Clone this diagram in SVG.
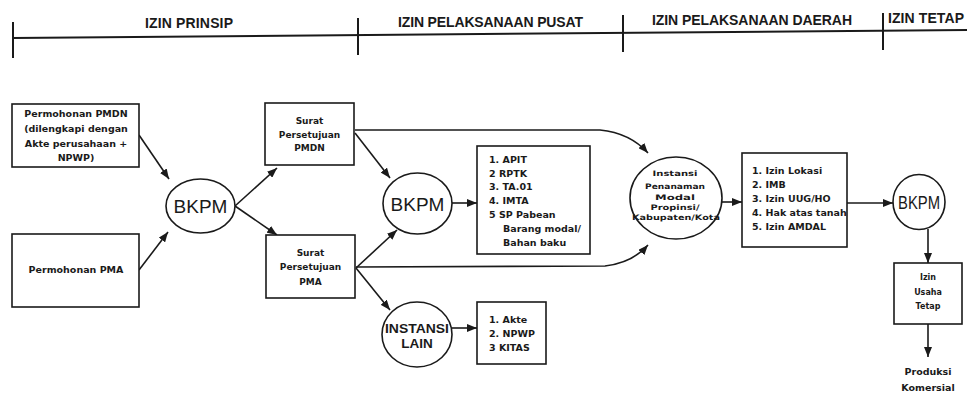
<svg xmlns="http://www.w3.org/2000/svg" width="967" height="398" viewBox="0 0 967 398">
<defs>
<marker id="ah" markerUnits="userSpaceOnUse" markerWidth="10" markerHeight="8" refX="10" refY="4" orient="auto">
<path d="M0,0 L10,4 L0,8 z" fill="#1a1a1a"/>
</marker>
</defs>
<style>
.ln{stroke:#1a1a1a;stroke-width:1.6;fill:none}
.ar{stroke:#1a1a1a;stroke-width:1.6;fill:none;marker-end:url(#ah)}
.bx{stroke:#1a1a1a;stroke-width:1.6;fill:#fff}
.hd{font-family:"Liberation Sans",Arial,sans-serif;font-weight:bold;font-size:14px;fill:#1a1a1a}
.sm{font-family:"DejaVu Sans",sans-serif;font-weight:bold;font-size:9.5px;fill:#1a1a1a}
.sc{font-family:"DejaVu Sans",sans-serif;font-weight:bold;font-size:9px;fill:#1a1a1a;text-anchor:middle}
.bk{font-family:"Liberation Sans",Arial,sans-serif;font-size:19px;fill:#1a1a1a;text-anchor:middle}
</style>
<rect width="967" height="398" fill="#fff"/>
<g id="header">
<line x1="13" y1="38" x2="967" y2="30" class="ln" style="stroke-width:2"/>
<line x1="13" y1="22" x2="13" y2="58" class="ln" style="stroke-width:2"/>
<line x1="358" y1="18" x2="358" y2="55" class="ln" style="stroke-width:2"/>
<line x1="623" y1="15" x2="623" y2="52" class="ln" style="stroke-width:2"/>
<line x1="883" y1="13" x2="883" y2="50" class="ln" style="stroke-width:2"/>
<text x="145" y="28" class="hd" textLength="88">IZIN PRINSIP</text>
<text x="398" y="27" class="hd" textLength="185">IZIN PELAKSANAAN PUSAT</text>
<text x="652" y="25" class="hd" textLength="200">IZIN PELAKSANAAN DAERAH</text>
<text x="888" y="23" class="hd" textLength="76">IZIN TETAP</text>
</g>
<g id="connectors">
<line x1="139" y1="135" x2="169" y2="179" class="ar"/>
<line x1="139" y1="270" x2="168" y2="232" class="ar"/>
<line x1="235" y1="206" x2="277" y2="168" class="ar"/>
<line x1="235" y1="206" x2="277" y2="235" class="ar"/>
<line x1="355" y1="133" x2="390" y2="178" class="ar"/>
<line x1="356" y1="268" x2="397" y2="230" class="ar"/>
<line x1="356" y1="268" x2="390" y2="310" class="ar"/>
<line x1="452" y1="203" x2="477" y2="203" class="ar"/>
<path d="M355,130 L600,130 Q630,133 648,153" class="ar"/>
<path d="M356,267 L605,266 Q632,263 648,245" class="ar"/>
<line x1="722" y1="202" x2="742" y2="202" class="ar"/>
<line x1="847" y1="203" x2="893" y2="203" class="ar"/>
<line x1="928" y1="229" x2="928" y2="263" class="ar"/>
<line x1="928" y1="324" x2="928" y2="357" class="ar"/>
<line x1="452" y1="328" x2="477" y2="328" class="ar"/>
</g>
<g id="permohonan-pmdn">
<rect x="12" y="104" width="127" height="63" class="bx"/>
<text x="76" y="117" class="sc" style="font-size:9.5px">Permohonan PMDN</text>
<text x="76" y="132" class="sc" style="font-size:9.5px">(dilengkapi dengan</text>
<text x="76" y="147" class="sc" style="font-size:9.5px">Akte perusahaan +</text>
<text x="76" y="161" class="sc" style="font-size:9.5px">NPWP)</text>
</g>
<g id="permohonan-pma">
<rect x="12" y="234" width="127" height="73" class="bx"/>
<text x="76" y="273" class="sc" style="font-size:9.5px">Permohonan PMA</text>
</g>
<g id="bkpm1">
<ellipse cx="200.5" cy="206" rx="34.5" ry="27" class="bx"/>
<text x="200.5" y="213" class="bk">BKPM</text>
</g>
<g id="surat-pmdn">
<rect x="265" y="103" width="89" height="62" class="bx"/>
<text x="309.5" y="124" class="sc">Surat</text>
<text x="309.5" y="138" class="sc">Persetujuan</text>
<text x="309.5" y="151" class="sc">PMDN</text>
</g>
<g id="surat-pma">
<rect x="266" y="235" width="89" height="63" class="bx"/>
<text x="310.5" y="256" class="sc">Surat</text>
<text x="310.5" y="270" class="sc">Persetujuan</text>
<text x="310.5" y="285" class="sc">PMA</text>
</g>
<g id="bkpm2">
<ellipse cx="417.5" cy="203.5" rx="34.5" ry="30.5" class="bx"/>
<text x="417.5" y="211" class="bk">BKPM</text>
</g>
<g id="list-pusat">
<rect x="477" y="146" width="113" height="108" class="bx"/>
<text x="489" y="163" class="sm">1. APIT</text>
<text x="489" y="177" class="sm">2 RPTK</text>
<text x="489" y="190" class="sm">3. TA.01</text>
<text x="489" y="204" class="sm">4. IMTA</text>
<text x="489" y="218" class="sm">5 SP Pabean</text>
<text x="503" y="232" class="sm">Barang modal/</text>
<text x="503" y="246" class="sm">Bahan baku</text>
</g>
<g id="instansi-lain">
<ellipse cx="417" cy="334.5" rx="35" ry="32.5" class="bx"/>
<text x="417" y="333" class="bk" style="font-size:13.5px;font-weight:bold" textLength="64" lengthAdjust="spacingAndGlyphs">INSTANSI</text>
<text x="417" y="348" class="bk" style="font-size:13.5px;font-weight:bold">LAIN</text>
</g>
<g id="list-lain">
<rect x="477" y="302" width="69" height="62" class="bx"/>
<text x="489" y="323" class="sm">1. Akte</text>
<text x="489" y="337" class="sm">2. NPWP</text>
<text x="489" y="351" class="sm">3 KITAS</text>
</g>
<g id="instansi-daerah">
<ellipse cx="676" cy="198" rx="46" ry="41" class="bx"/>
<text x="675" y="176" class="sc" style="font-size:7.5px" textLength="45" lengthAdjust="spacingAndGlyphs">Instansi</text>
<text x="675" y="189" class="sc" style="font-size:7.5px" textLength="60" lengthAdjust="spacingAndGlyphs">Penanaman</text>
<text x="675" y="200" class="sc" style="font-size:7.5px" textLength="40" lengthAdjust="spacingAndGlyphs">Modal</text>
<text x="675" y="210" class="sc" style="font-size:7.5px" textLength="49" lengthAdjust="spacingAndGlyphs">Propinsi/</text>
<text x="676" y="220" class="sc" style="font-size:7.5px" textLength="88" lengthAdjust="spacingAndGlyphs">Kabupaten/Kota</text>
</g>
<g id="list-daerah">
<rect x="742" y="153" width="105" height="94" class="bx"/>
<text x="752" y="174" class="sm">1. Izin Lokasi</text>
<text x="752" y="188" class="sm">2. IMB</text>
<text x="752" y="202" class="sm">3. Izin UUG/HO</text>
<text x="752" y="216" class="sm">4. Hak atas tanah</text>
<text x="752" y="230" class="sm">5. Izin AMDAL</text>
</g>
<g id="bkpm3">
<ellipse cx="919" cy="202" rx="26" ry="27.5" class="bx"/>
<text x="919" y="209" class="bk" style="font-size:19px" textLength="42" lengthAdjust="spacingAndGlyphs">BKPM</text>
</g>
<g id="izin-usaha-tetap">
<rect x="894" y="263" width="68" height="61" class="bx"/>
<text x="928" y="280" class="sc" style="font-size:8px">Izin</text>
<text x="928" y="295" class="sc" style="font-size:8px">Usaha</text>
<text x="928" y="309" class="sc" style="font-size:8px">Tetap</text>
</g>
<g id="produksi">
<text x="928" y="375" class="sc" style="font-size:9.5px">Produksi</text>
<text x="928" y="391" class="sc" style="font-size:9.5px">Komersial</text>
</g>
</svg>
